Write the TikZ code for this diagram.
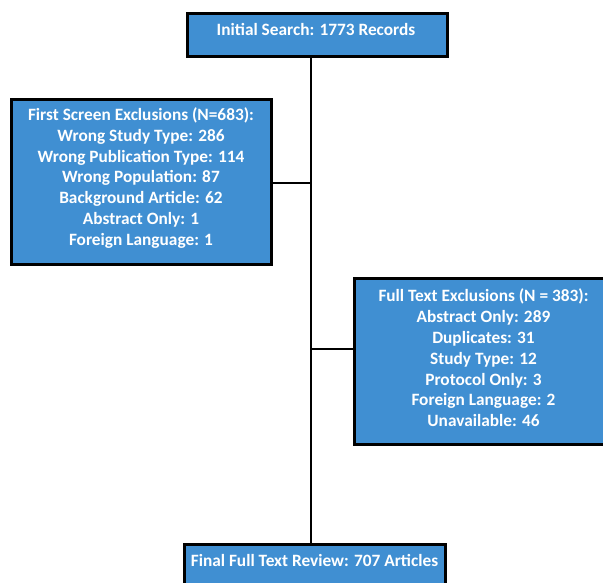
\documentclass[tikz,border=0pt]{standalone}
\usepackage{fontspec}
\setmainfont{Carlito}
\definecolor{boxblue}{RGB}{64,143,210}
\tikzset{
  flowbox/.style={draw=black, line width=2.6pt, fill=boxblue, inner sep=0pt, anchor=north west},
  boxtext/.style={text=white, font=\bfseries\fontsize{17.3}{20.8}\selectfont, align=center, inner sep=0pt},
  link/.style={draw=black, line width=2.4pt}
}
\begin{document}
\begin{tikzpicture}[x=1pt,y=-1pt]
\useasboundingbox (0,0) rectangle (603,583);
\begin{scope}
\clip (0,0) rectangle (603,583);
% boxes
\node[flowbox, minimum width=260pt, minimum height=43pt] (top) at (186,12) {};
\node[flowbox, minimum width=260pt, minimum height=165pt] (left) at (10,98) {};
\node[flowbox, minimum width=262pt, minimum height=166pt] (right) at (353,277) {};
\node[flowbox, minimum width=261pt, minimum height=60pt] (bottom) at (183,543) {};
% texts
\node[boxtext] (toptext) at (316,29) {Initial Search: 1773 Records};
\node[boxtext] (lefttext) at (141,178) {First Screen Exclusions (N=683):\\Wrong Study Type: 286\\Wrong Publication Type: 114\\Wrong Population: 87\\Background Article: 62\\Abstract Only: 1\\Foreign Language: 1};
\node[boxtext] (righttext) at (483.5,358) {Full Text Exclusions (N = 383):\\Abstract Only: 289\\Duplicates: 31\\Study Type: 12\\Protocol Only: 3\\Foreign Language: 2\\Unavailable: 46};
\node[boxtext] (bottomtext) at (314.5,560) {Final Full Text Review: 707 Articles};
% connectors
\coordinate (j1) at (311,183);
\coordinate (j2) at (311,349);
\draw[link] (top.south -| j1) -- (bottom.north -| j1);
\draw[link] (left.east |- j1) -- (j1);
\draw[link] (j2) -- (right.west |- j2);
\end{scope}
\end{tikzpicture}
\end{document}
